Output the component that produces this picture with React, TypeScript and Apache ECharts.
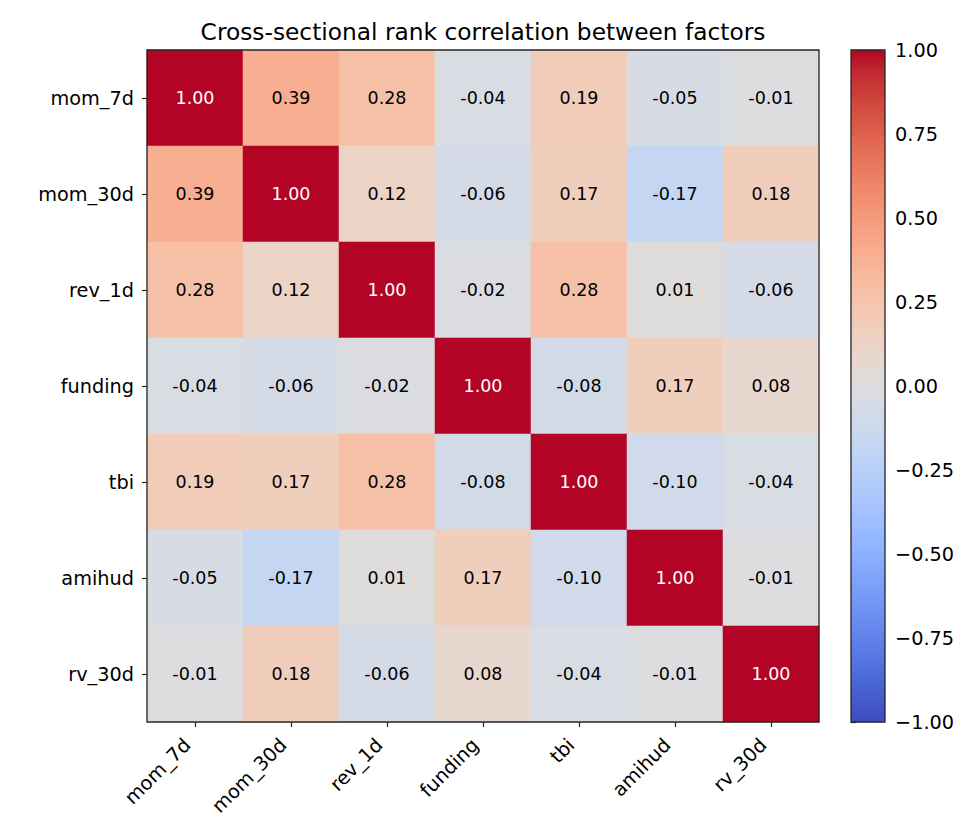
import React, { useEffect, useRef } from "react";
import * as echarts from "echarts";

const factors = ["mom_7d", "mom_30d", "rev_1d", "funding", "tbi", "amihud", "rv_30d"];

const rowMom7d = [1.0, 0.39, 0.28, -0.04, 0.19, -0.05, -0.01];
const rowMom30d = [0.39, 1.0, 0.12, -0.06, 0.17, -0.17, 0.18];
const rowRev1d = [0.28, 0.12, 1.0, -0.02, 0.28, 0.01, -0.06];
const rowFunding = [-0.04, -0.06, -0.02, 1.0, -0.08, 0.17, 0.08];
const rowTbi = [0.19, 0.17, 0.28, -0.08, 1.0, -0.1, -0.04];
const rowAmihud = [-0.05, -0.17, 0.01, 0.17, -0.1, 1.0, -0.01];
const rowRv30d = [-0.01, 0.18, -0.06, 0.08, -0.04, -0.01, 1.0];

const matrix = [rowMom7d, rowMom30d, rowRev1d, rowFunding, rowTbi, rowAmihud, rowRv30d];

const colorbarTicks = [-1, -0.75, -0.5, -0.25, 0, 0.25, 0.5, 0.75, 1];

// matplotlib "coolwarm" colormap, 33 evenly spaced stops
const coolwarm = [
  [59, 76, 192], [68, 90, 204], [77, 104, 215], [87, 117, 225], [98, 130, 234],
  [108, 142, 241], [119, 154, 247], [130, 165, 251], [141, 176, 254], [152, 185, 255],
  [163, 194, 255], [174, 201, 253], [184, 208, 249], [194, 213, 244], [204, 217, 238],
  [213, 219, 230], [221, 221, 221], [229, 216, 209], [236, 211, 197], [241, 204, 184],
  [245, 196, 172], [247, 187, 160], [247, 177, 148], [247, 166, 135], [244, 154, 123],
  [241, 141, 111], [236, 127, 99], [229, 112, 88], [222, 96, 77], [213, 80, 66],
  [203, 62, 56], [192, 40, 47], [180, 4, 38],
].map(([r, g, b]) => `rgb(${r},${g},${b})`);

const FONT = "DejaVu Sans";
const PX = { left: 147, top: 50, size: 672 };
const CB = { left: 851, top: 50, width: 34, height: 672 };
const EDGE = "#262626";
const TICK_FS = 19.3;
const ANN_FS = 17.5;

export default function App() {
  const ref = useRef<HTMLDivElement>(null);

  useEffect(() => {
    if (!ref.current) return;
    const chart = echarts.init(ref.current, null, { renderer: "svg" });

    const data: any[] = [];
    matrix.forEach((row, yi) => {
      row.forEach((v, xi) => {
        data.push({
          value: [xi, yi, v],
          label: { color: Math.abs(v) > 0.5 ? "#ffffff" : "#000000" },
        });
      });
    });

    const fmtTick = (v: number) => v.toFixed(2).replace("-", "\u2212");

    chart.setOption({
      animation: false,
      backgroundColor: "#ffffff",
      textStyle: { fontFamily: FONT },
      grid: [
        { left: PX.left, top: PX.top, width: PX.size, height: PX.size, containLabel: false },
        { left: CB.left, top: CB.top, width: CB.width, height: CB.height, containLabel: false },
      ],
      xAxis: [
        {
          type: "category",
          gridIndex: 0,
          data: factors,
          axisLine: { show: false },
          axisTick: { show: true, alignWithLabel: true, length: 5, lineStyle: { color: EDGE, width: 1.2 } },
          axisLabel: {
            rotate: 45,
            interval: 0,
            margin: 12,
            padding: [0, 11, 0, 0],
            fontSize: TICK_FS,
            color: "#000",
            fontFamily: FONT,
          },
          splitLine: { show: false },
        },
        { type: "value", gridIndex: 1, show: false, min: 0, max: 1 },
      ],
      yAxis: [
        {
          type: "category",
          gridIndex: 0,
          data: factors,
          inverse: true,
          axisLine: { show: false },
          axisTick: { show: true, alignWithLabel: true, length: 5, lineStyle: { color: EDGE, width: 1.2 } },
          axisLabel: { interval: 0, margin: 13, fontSize: TICK_FS, color: "#000", fontFamily: FONT },
          splitLine: { show: false },
        },
        {
          type: "value",
          gridIndex: 1,
          position: "right",
          min: colorbarTicks[0],
          max: colorbarTicks[colorbarTicks.length - 1],
          interval: 0.25,
          axisLine: { show: false },
          axisTick: { show: true, length: 5, lineStyle: { color: EDGE, width: 1.2 } },
          axisLabel: { margin: 10, fontSize: TICK_FS, color: "#000", fontFamily: FONT, formatter: fmtTick },
          splitLine: { show: false },
        },
      ],
      visualMap: {
        type: "continuous",
        seriesIndex: 0,
        min: -1,
        max: 1,
        calculable: false,
        orient: "vertical",
        left: CB.left,
        top: CB.top,
        itemWidth: CB.width,
        itemHeight: CB.height,
        padding: 0,
        inRange: { color: coolwarm },
      },
      graphic: [
        {
          type: "text",
          x: PX.left + PX.size / 2,
          y: 31,
          z: 100,
          style: {
            text: "Cross-sectional rank correlation between factors",
            fontFamily: FONT,
            fontSize: 23.3,
            fill: "#000",
            textAlign: "center",
            textVerticalAlign: "middle",
          },
        },
        {
          type: "rect",
          z: 100,
          shape: { x: PX.left, y: PX.top, width: PX.size, height: PX.size },
          style: { fill: "none", stroke: EDGE, lineWidth: 1.3 },
        },
        {
          type: "rect",
          z: 100,
          shape: { x: CB.left, y: CB.top, width: CB.width, height: CB.height },
          style: { fill: "none", stroke: EDGE, lineWidth: 1.3 },
        },
      ],
      series: [
        {
          type: "heatmap",
          xAxisIndex: 0,
          yAxisIndex: 0,
          data,
          label: {
            show: true,
            fontSize: ANN_FS,
            fontFamily: FONT,
            formatter: (p: any) => p.value[2].toFixed(2),
          },
          itemStyle: { borderWidth: 0 },
          emphasis: { disabled: true },
        },
        {
          type: "scatter",
          xAxisIndex: 1,
          yAxisIndex: 1,
          data: [],
          silent: true,
        },
      ],
    });

    return () => chart.dispose();
  }, []);

  return (
    <div
      ref={ref}
      style={{ position: "fixed", left: 0, top: 0, width: 980, height: 840 }}
    />
  );
}
